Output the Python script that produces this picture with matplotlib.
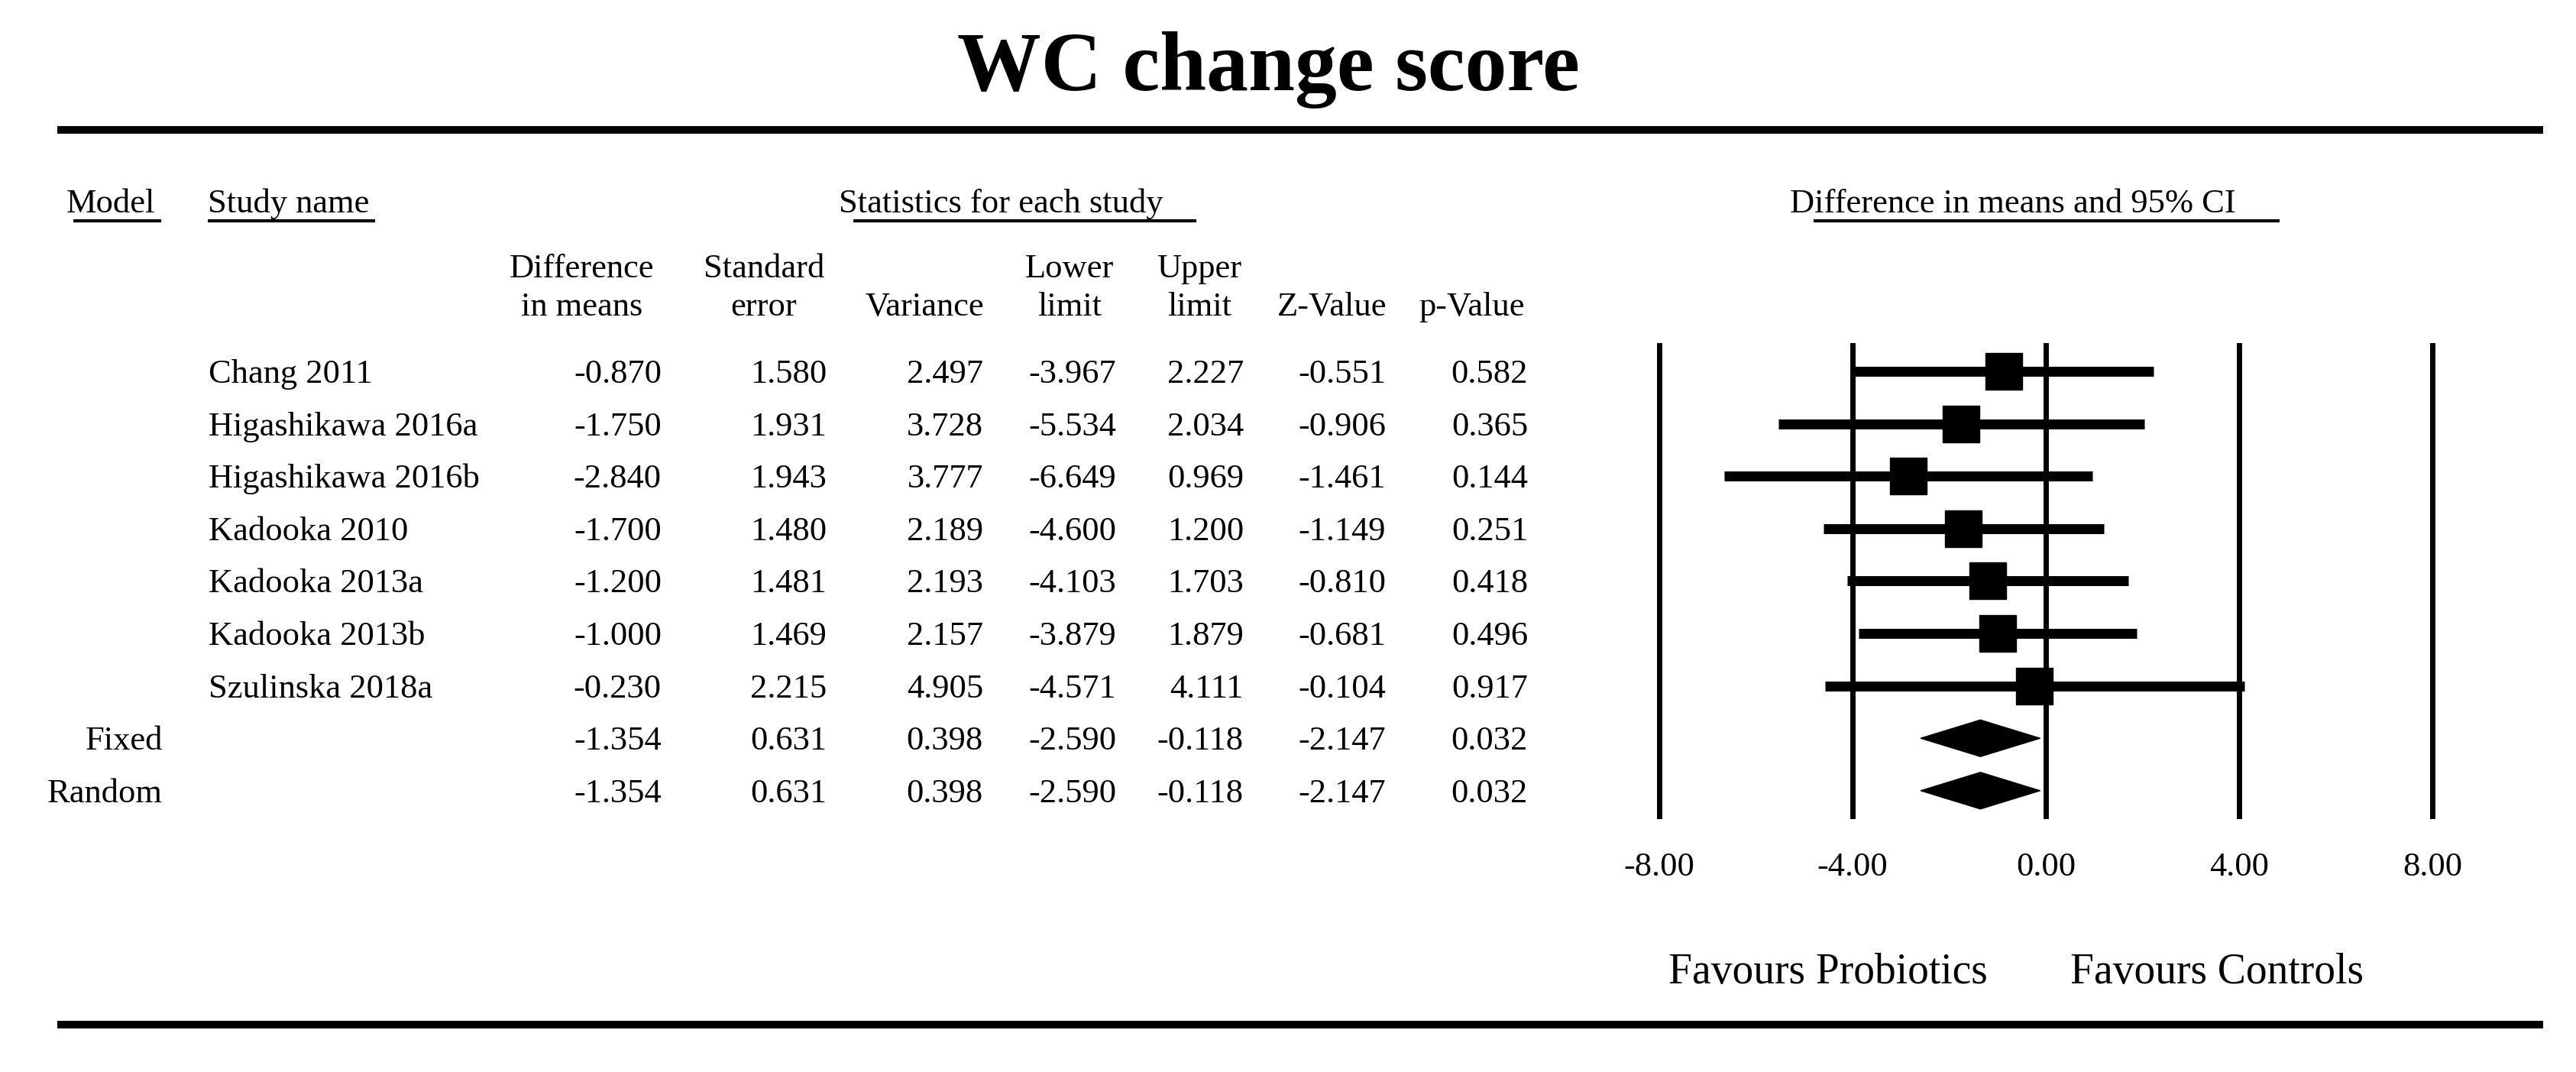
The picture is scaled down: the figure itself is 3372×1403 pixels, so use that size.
import numpy as np
import matplotlib.pyplot as plt

plt.rcParams['font.family'] = ['Liberation Serif', 'DejaVu Serif']

# data
models = ['', '', '', '', '', '', '', 'Fixed', 'Random']
studies = ['Chang 2011', 'Higashikawa 2016a', 'Higashikawa 2016b', 'Kadooka 2010',
           'Kadooka 2013a', 'Kadooka 2013b', 'Szulinska 2018a', '', '']
diff = [-0.870, -1.750, -2.840, -1.700, -1.200, -1.000, -0.230, -1.354, -1.354]
se = [1.580, 1.931, 1.943, 1.480, 1.481, 1.469, 2.215, 0.631, 0.631]
var = [2.497, 3.728, 3.777, 2.189, 2.193, 2.157, 4.905, 0.398, 0.398]
lower = [-3.967, -5.534, -6.649, -4.600, -4.103, -3.879, -4.571, -2.590, -2.590]
upper = [2.227, 2.034, 0.969, 1.200, 1.703, 1.879, 4.111, -0.118, -0.118]
zval = [-0.551, -0.906, -1.461, -1.149, -0.810, -0.681, -0.104, -2.147, -2.147]
pval = [0.582, 0.365, 0.144, 0.251, 0.418, 0.496, 0.917, 0.032, 0.032]
n_studies = 7
ticks = [-8, -4, 0, 4, 8]

W, H = 3372, 1403
fig = plt.figure(figsize=(W / 100, H / 100), dpi=100)

# overlay axes in pixel coordinates for table text and rules
bg = fig.add_axes([0, 0, 1, 1])
bg.set_xlim(0, W)
bg.set_ylim(H, 0)
bg.axis('off')

fs = 32
bg.text(1660, 118, 'WC change score', fontsize=79, fontweight='bold', ha='center', va='baseline')
bg.plot([75, 3329], [170, 170], color='black', lw=7.2, solid_capstyle='butt')
bg.plot([75, 3329], [1341, 1341], color='black', lw=7.2, solid_capstyle='butt')

# group headers with underlines
heads = [('Model', 87, 96, 211), ('Study name', 272, 272, 491),
         ('Statistics for each study', 1098, 1117, 1566),
         ('Difference in means and 95% CI', 2343, 2374, 2984)]
for txt, x, u0, u1 in heads:
    bg.text(x, 278, txt, fontsize=fs, ha='left', va='baseline')
    bg.plot([u0, u1], [289, 289], color='black', lw=3, solid_capstyle='butt')

# column headers
col_heads = [('Difference', 'in means'), ('Standard', 'error'), ('', 'Variance'),
             ('Lower', 'limit'), ('Upper', 'limit'), ('', 'Z-Value'), ('', 'p-Value')]
head_x = [762, 1000, 1210, 1400, 1570, 1744, 1927]
for (l1, l2), x in zip(col_heads, head_x):
    bg.text(x, 363, l1, fontsize=fs, ha='center', va='baseline')
    bg.text(x, 413, l2, fontsize=fs, ha='center', va='baseline')

# table rows
row0, step = 486, 68.6
cols = [diff, se, var, lower, upper, zval, pval]
col_right = [866, 1082, 1287, 1461, 1628, 1814, 2000]
for i in range(len(diff)):
    y = row0 + i * step + 15
    if models[i]:
        bg.text(213, y, models[i], fontsize=fs, ha='right', va='baseline')
    if studies[i]:
        bg.text(273, y, studies[i], fontsize=fs, ha='left', va='baseline')
    for c, xr in zip(cols, col_right):
        bg.text(xr, y, '%.3f' % c[i], fontsize=fs, ha='right', va='baseline')

bg.text(2184, 1287, 'Favours Probiotics', fontsize=40, ha='left', va='baseline')
bg.text(2710, 1287, 'Favours Controls', fontsize=40, ha='left', va='baseline')

# forest plot axes
ppu = 63.25
x0 = 2678 - 9 * ppu
x1 = 2678 + 9 * ppu
top, bot = 449, 1072
ax = fig.add_axes([x0 / W, 1 - bot / H, (x1 - x0) / W, (bot - top) / H])
ax.set_xlim(-9, 9)
ylo = (top - row0) / step
yhi = (bot - row0) / step
ax.set_ylim(yhi, ylo)
ax.patch.set_alpha(0)
for s in ax.spines.values():
    s.set_visible(False)
for t in ticks:
    ax.axvline(t, color='black', lw=5, zorder=1)

ypos = np.arange(len(diff))
for i in range(n_studies):
    ax.plot([lower[i], upper[i]], [ypos[i], ypos[i]], color='black', lw=9.4,
            solid_capstyle='butt', zorder=2)
ax.plot(diff[:n_studies], ypos[:n_studies], 's', color='black', markersize=34.5, zorder=3)

hh = 24 / step
for i in range(n_studies, len(diff)):
    ax.fill([lower[i], diff[i], upper[i], diff[i]],
            [ypos[i], ypos[i] - hh, ypos[i], ypos[i] + hh], color='black', zorder=3)

ax.set_yticks([])
ax.set_xticks(ticks)
ax.set_xticklabels(['%.2f' % t for t in ticks], fontsize=fs)
ax.tick_params(axis='x', length=0, pad=31)

fig.savefig('out.png', dpi=100, facecolor='white')
